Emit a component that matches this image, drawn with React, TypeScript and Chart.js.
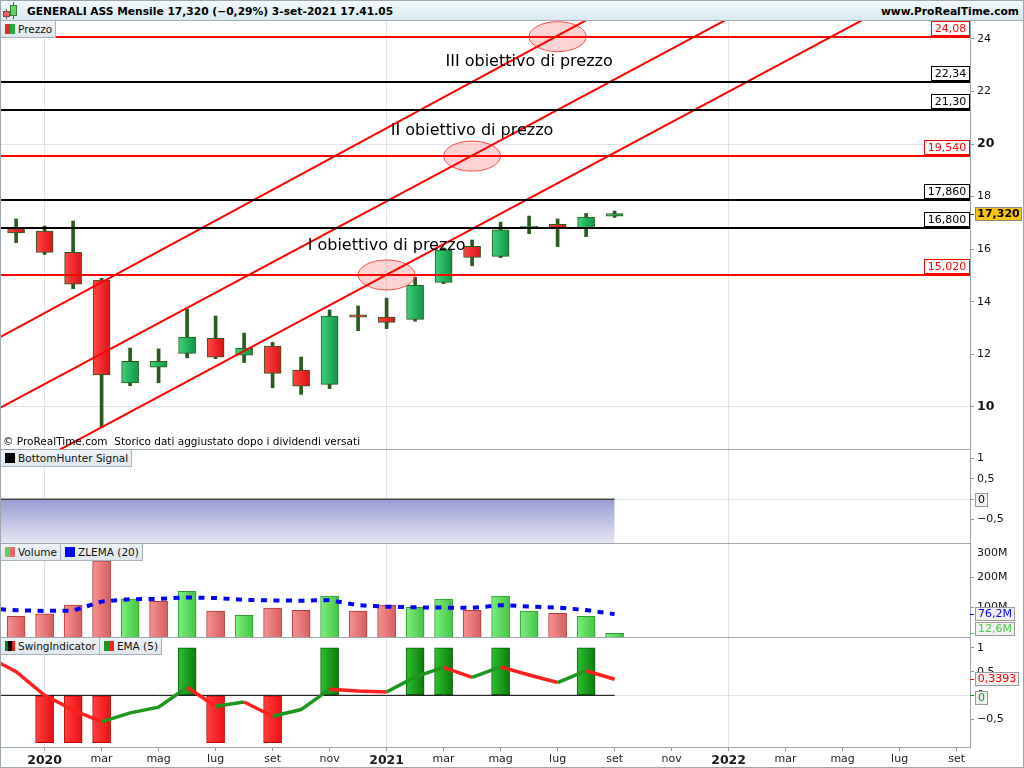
import React, { useEffect, useRef } from 'react';
import { Chart, registerables } from 'chart.js';

Chart.register(...registerables);

const FONT = '"DejaVu Sans", "Noto Sans", sans-serif';

// ---------------- data ----------------
// x index: 0 = nov 2019 (just left of the window), 1 = dic 2019 ... 22 = set 2021; axis runs on to set 2022 (34)
const monthLabels = [
  'nov', 'dic',
  '2020', 'feb', 'mar', 'apr', 'mag', 'giu', 'lug', 'ago', 'set', 'ott', 'nov', 'dic',
  '2021', 'feb', 'mar', 'apr', 'mag', 'giu', 'lug', 'ago', 'set', 'ott', 'nov', 'dic',
  '2022', 'feb', 'mar', 'apr', 'mag', 'giu', 'lug', 'ago', 'set',
];

const priceOpen = [null, 16.78, 16.69, 15.88, 14.83, 10.92, 11.51, 12.04, 12.61, 11.97, 12.32, 11.40, 10.86, 13.50, 13.42, 13.33, 14.74, 16.11, 15.73, 16.82, 16.95, 16.82, 17.26];
const priceHigh = [null, 17.15, 16.88, 17.07, 14.89, 12.24, 12.21, 13.71, 13.46, 12.81, 12.46, 11.90, 13.69, 13.84, 14.14, 14.93, 16.05, 16.35, 17.03, 17.26, 17.15, 17.36, 17.45];
const priceLow = [null, 16.25, 15.80, 14.50, 9.21, 10.81, 10.92, 11.87, 11.84, 11.69, 10.73, 10.48, 10.70, 12.90, 12.98, 13.26, 14.69, 15.37, 15.68, 16.59, 16.10, 16.48, 17.21];
const priceClose = [null, 16.62, 15.88, 14.67, 11.22, 11.74, 11.74, 12.66, 11.89, 12.24, 11.28, 10.79, 13.46, 13.42, 13.22, 14.63, 15.97, 15.69, 16.74, 16.88, 16.83, 17.22, 17.35];

const lastPrice = 17.32;
const lastPriceText = '17,320';

const levelValues = [24.08, 22.34, 21.3, 19.54, 17.86, 16.8, 15.02];
const levelTexts = ['24,08', '22,34', '21,30', '19,540', '17,860', '16,800', '15,020'];
const levelIsTarget = [true, false, false, true, false, false, true];

// parallel channel lines (two points each, x index / price)
const channelX0 = [1, 1, 1];
const channelY0 = [12.99, 10.29, 7.49];
const channelX1 = [20, 17, 14];
const channelY1 = [24.12, 19.56, 15.03];

const targetX = [14, 17, 20];
const targetY = [15.02, 19.54, 24.08];
const targetNames = ['I obiettivo di prezzo', 'II obiettivo di prezzo', 'III obiettivo di prezzo'];
const targetNameX = [14, 17, 19];
const targetNameY = [16.12, 20.49, 23.12];

const priceTicks = [10, 12, 14, 16, 18, 20, 22, 24];

const bottomHunter = [0, 0, 0, 0, 0, 0, 0, 0, 0, 0, 0, 0, 0, 0, 0, 0, 0, 0, 0, 0, 0, 0, 0];
const oscTicks = [1, 0.5, 0, -0.5];

// volume in millions
const volume = [null, 69, 77, 106, 254, 126, 119, 152, 86, 72, 96, 89, 136, 86, 106, 99, 126, 89, 136, 86, 79, 69, 12.6];
const volumeUp = [null, 0, 0, 0, 0, 1, 0, 1, 0, 1, 0, 0, 1, 0, 0, 1, 1, 0, 1, 1, 0, 1, 1];
const zlema20 = [95, 89, 87, 88, 118, 126, 127, 132, 130, 124, 122, 121, 123, 106, 101, 99, 98, 97, 106, 102, 98, 90, 76.2];
const volumeTicks = [100, 200, 300];

const swing = [null, 0, -1, -1, -1, 0, 0, 1, -1, 0, -1, 0, 1, 0, 0, 1, 1, 0, 1, 0, 0, 1, 0];
const ema5 = [0.82, 0.5, 0.0, -0.31, -0.56, -0.37, -0.25, 0.17, -0.23, -0.14, -0.44, -0.3, 0.13, 0.09, 0.07, 0.39, 0.59, 0.38, 0.6, 0.43, 0.27, 0.52, 0.3393];

const copyrightText = '© ProRealTime.com  Storico dati aggiustato dopo i dividendi versati';

// ---------------- styling helpers ----------------
const X_MIN = 0.47;
const X_MAX = 34.47;
const GRID = '#dfe2e8';
const AXIS = '#9ba6ad';
const TICK = '#8d99a1';
const CLEAR = 'rgba(0,0,0,0)';
const UI_FONT = `10.5px ${FONT}`;

const xTickValues = monthLabels.map((_, i) => i).filter((i) => i >= 2 && i % 2 === 0);
const isYearLabel = (v: number) => /^\d{4}$/.test(monthLabels[v] ?? '');
const fmtComma = (v: number) => (v === 0 ? '0' : String(v).replace('.', ',').replace('-', '\u2212'));

function makeX(showLabels: boolean): any {
  return {
    type: 'linear',
    min: X_MIN,
    max: X_MAX,
    offset: false,
    grid: {
      offset: false,
      color: (c: any) => (c.tick && isYearLabel(c.tick.value) ? GRID : CLEAR),
      tickColor: TICK,
      tickLength: 4,
      drawTicks: showLabels,
      lineWidth: 1,
    },
    border: { display: showLabels, color: AXIS },
    ticks: {
      display: showLabels,
      autoSkip: false,
      maxRotation: 0,
      minRotation: 0,
      padding: 2,
      color: '#1a1a1a',
      font: (c: any) => {
        const y = c.tick && isYearLabel(c.tick.value);
        return { family: FONT, size: y ? 12.5 : 11, weight: y ? 'bold' : 'normal' };
      },
      callback: (v: any) => monthLabels[v] ?? '',
    },
    afterBuildTicks: (s: any) => {
      s.ticks = xTickValues.map((v) => ({ value: v }));
    },
    afterFit: (s: any) => {
      s.height = showLabels ? 21 : 0;
      s.paddingLeft = 0;
      s.paddingRight = 0;
    },
  };
}

function makeY(min: number, max: number, tickVals: number[], fmt: (v: number) => any, gridVals: number[], font?: any, tickColor?: any): any {
  return {
    type: 'linear',
    position: 'right',
    min,
    max,
    grid: {
      color: (c: any) => (c.tick && gridVals.includes(c.tick.value) ? GRID : CLEAR),
      tickColor: tickColor ?? TICK,
      tickLength: 4,
      drawTicks: true,
    },
    border: { display: true, color: AXIS },
    ticks: {
      autoSkip: false,
      padding: 3,
      color: '#111',
      font: font ?? { family: FONT, size: 11 },
      callback: (v: any) => fmt(Number(v)),
    },
    afterBuildTicks: (s: any) => {
      s.ticks = tickVals.map((v) => ({ value: v }));
    },
    afterFit: (s: any) => {
      s.width = 53;
      s.paddingTop = 0;
      s.paddingBottom = 0;
    },
  };
}

function hGradient(half: number, pick: (i: number) => [string, string]) {
  return (c: any) => {
    const raw = c.raw;
    if (c.type !== 'data' || !raw) return '#888';
    const [c0, c1] = pick(raw.x);
    const xs = c.chart.scales && c.chart.scales.x;
    const px = xs ? xs.getPixelForValue(raw.x) : NaN;
    if (!isFinite(px)) return c1;
    const g = c.chart.ctx.createLinearGradient(px - half, 0, px + half, 0);
    g.addColorStop(0, c0);
    g.addColorStop(1, c1);
    return g;
  };
}

function baseOptions(x: any, y: any): any {
  return {
    responsive: false,
    animation: false,
    events: [],
    layout: { padding: 0 },
    plugins: { legend: { display: false }, tooltip: { enabled: false } },
    scales: { x, y },
  };
}

type AxisBox = { value: number; text: string; color: string; bg: string; border: string; bold?: boolean; dy?: number; dash?: string; width?: number };

function axisBoxesPlugin(id: string, boxes: AxisBox[]) {
  return {
    id,
    afterDraw(chart: any) {
      const { ctx } = chart;
      const ys = chart.scales.y;
      ctx.save();
      boxes.forEach((b) => {
        const py = ys.getPixelForValue(b.value);
        if (b.dash) {
          ctx.strokeStyle = b.dash;
          ctx.lineWidth = 1;
          ctx.beginPath();
          ctx.moveTo(ys.left, Math.round(py) + 0.5);
          ctx.lineTo(ys.left + 4, Math.round(py) + 0.5);
          ctx.stroke();
        }
        ctx.font = `${b.bold ? 'bold ' : ''}11px ${FONT}`;
        const w = b.width ?? Math.round(ctx.measureText(b.text).width + 6);
        const h = 14;
        const cy = Math.round(py + (b.dy || 0));
        const x0 = Math.round(ys.left + 5);
        const y0 = cy - 7;
        ctx.fillStyle = b.bg;
        ctx.fillRect(x0, y0, w, h);
        ctx.strokeStyle = b.border;
        ctx.lineWidth = 1;
        ctx.strokeRect(x0 + 0.5, y0 + 0.5, w - 1, h - 1);
        ctx.fillStyle = b.color;
        ctx.textAlign = 'center';
        ctx.textBaseline = 'middle';
        ctx.fillText(b.text, x0 + w / 2, cy + 0.5);
      });
      ctx.restore();
    },
  };
}

const pricePlugin = {
  id: 'priceAnnotations',
  afterDatasetsDraw(chart: any) {
    const { ctx, chartArea: a } = chart;
    const xs = chart.scales.x;
    const ys = chart.scales.y;
    ctx.save();
    ctx.beginPath();
    ctx.rect(a.left, a.top, a.right - a.left, a.bottom - a.top);
    ctx.clip();

    for (let k = 0; k < targetX.length; k++) {
      const cx = xs.getPixelForValue(targetX[k]);
      const cy = ys.getPixelForValue(targetY[k]);
      ctx.beginPath();
      ctx.ellipse(cx, cy, 28.5, 15, 0, 0, Math.PI * 2);
      ctx.fillStyle = 'rgba(255, 140, 140, 0.38)';
      ctx.fill();
      ctx.strokeStyle = '#ff4a4a';
      ctx.lineWidth = 1;
      ctx.stroke();
    }

    ctx.strokeStyle = '#ff0000';
    ctx.lineWidth = 2;
    for (let k = 0; k < channelX0.length; k++) {
      const s = (channelY1[k] - channelY0[k]) / (channelX1[k] - channelX0[k]);
      const xa = X_MIN - 1;
      const xb = X_MAX + 1;
      ctx.beginPath();
      ctx.moveTo(xs.getPixelForValue(xa), ys.getPixelForValue(channelY0[k] + (xa - channelX0[k]) * s));
      ctx.lineTo(xs.getPixelForValue(xb), ys.getPixelForValue(channelY0[k] + (xb - channelX0[k]) * s));
      ctx.stroke();
    }

    for (let k = 0; k < levelValues.length; k++) {
      const py = Math.round(ys.getPixelForValue(levelValues[k]));
      ctx.fillStyle = levelIsTarget[k] ? '#ff0000' : '#000000';
      ctx.fillRect(a.left, py - 1, a.right - a.left, 2);
    }

    ctx.fillStyle = '#000';
    ctx.font = `16px ${FONT}`;
    ctx.textAlign = 'center';
    ctx.textBaseline = 'middle';
    for (let k = 0; k < targetNames.length; k++) {
      ctx.fillText(targetNames[k], xs.getPixelForValue(targetNameX[k]), ys.getPixelForValue(targetNameY[k]));
    }

    ctx.font = `11px ${FONT}`;
    for (let k = 0; k < levelValues.length; k++) {
      const py = Math.round(ys.getPixelForValue(levelValues[k]));
      const color = levelIsTarget[k] ? '#ff0000' : '#000000';
      const w = Math.round(ctx.measureText(levelTexts[k]).width + 8);
      const h = 15;
      const x0 = a.right - w;
      const y0 = py - 1 - h;
      ctx.fillStyle = '#fff';
      ctx.fillRect(x0, y0, w, h);
      ctx.strokeStyle = color;
      ctx.lineWidth = 1;
      ctx.strokeRect(x0 + 0.5, y0 + 0.5, w - 1, h - 1);
      ctx.fillStyle = color;
      ctx.fillText(levelTexts[k], x0 + w / 2, y0 + h / 2 + 0.5);
    }

    ctx.textAlign = 'left';
    ctx.fillStyle = '#000';
    ctx.font = UI_FONT;
    ctx.fillText(copyrightText, a.left + 2, a.bottom - 7);
    ctx.restore();
  },
};

const CANDLE_GREEN: [string, string] = ['#3fd27a', '#0f9444'];
const CANDLE_RED: [string, string] = ['#ff4545', '#dc1212'];
const VOL_GREEN: [string, string] = ['#7cf07c', '#43c443'];
const VOL_RED: [string, string] = ['#f89292', '#d65e5e'];
const SW_GREEN: [string, string] = ['#30c030', '#0a7d0a'];
const SW_RED: [string, string] = ['#ff4040', '#ec1010'];

function Icon({ colors }: { colors: string[] }) {
  return (
    <div style={{ position: 'absolute', left: 4, top: 3, width: 10, height: 10, display: 'flex' }}>
      {colors.map((c, k) => (
        <div key={k} style={{ flex: 1, background: c }} />
      ))}
    </div>
  );
}

function LegendRow({ top, items }: { top: number; items: { label: string; colors: string[] }[] }) {
  return (
    <div style={{ position: 'absolute', left: 1, top, display: 'flex', height: 17 }}>
      {items.map((it, k) => (
        <div
          key={k}
          style={{
            position: 'relative',
            height: 17,
            boxSizing: 'border-box',
            padding: '0 3px 0 17px',
            background: 'linear-gradient(#eef3f6, #dfe7ec)',
            borderRight: '1px solid #a7b3ba',
            borderBottom: '1px solid #a7b3ba',
            font: UI_FONT,
            lineHeight: '16px',
            color: '#111',
            whiteSpace: 'nowrap',
          }}
        >
          <Icon colors={it.colors} />
          {it.label}
        </div>
      ))}
    </div>
  );
}

export default function App() {
  const priceRef = useRef<HTMLCanvasElement>(null);
  const bhRef = useRef<HTMLCanvasElement>(null);
  const volRef = useRef<HTMLCanvasElement>(null);
  const swRef = useRef<HTMLCanvasElement>(null);

  useEffect(() => {
    document.body.style.margin = '0';
    Chart.defaults.font.family = FONT;
    const charts: Chart[] = [];
    const idx = priceClose.map((_, i) => i).filter((i) => priceClose[i] != null);

    // ---- price ----
    const priceOpts = baseOptions(
      makeX(false),
      makeY(8.403, 24.677, priceTicks, (v) => String(v), [10, 20], (c: any) =>
        c.tick && c.tick.value % 10 === 0 ? { family: FONT, size: 12.5, weight: 'bold' } : { family: FONT, size: 11 }
      )
    );
    charts.push(
      new Chart(priceRef.current as HTMLCanvasElement, {
        type: 'bar',
        data: {
          datasets: [
            {
              type: 'bar',
              data: idx.map((i) => ({ x: i, y: [priceOpen[i], priceClose[i]] })),
              backgroundColor: hGradient(8.5, (i) => ((priceClose[i] as number) >= (priceOpen[i] as number) ? CANDLE_GREEN : CANDLE_RED)),
              borderColor: '#2b5a1e',
              borderWidth: 1,
              borderSkipped: false,
              barThickness: 17,
              grouped: false,
              order: 0,
            } as any,
            {
              type: 'bar',
              data: idx.map((i) => ({ x: i, y: [priceLow[i], priceHigh[i]] })),
              backgroundColor: '#2b5a1e',
              borderWidth: 0,
              barThickness: 3,
              grouped: false,
              order: 1,
            } as any,
          ],
        },
        options: priceOpts,
        plugins: [
          pricePlugin,
          axisBoxesPlugin('priceTag', [
            { value: lastPrice, text: lastPriceText, color: '#000', bg: '#f6c412', border: '#8a8a80', bold: true, width: 47, dash: '#333' },
          ]),
        ] as any,
      })
    );

    // ---- bottom hunter ----
    charts.push(
      new Chart(bhRef.current as HTMLCanvasElement, {
        type: 'line',
        data: {
          datasets: [
            {
              data: bottomHunter.map((v, i) => ({ x: i, y: v })),
              borderColor: '#000',
              borderWidth: 1,
              pointRadius: 0,
              clip: 0,
              fill: 'start',
              backgroundColor: (c: any) => {
                const ch = c.chart;
                const a = ch.chartArea;
                const ys = ch.scales.y;
                if (!a || !ys) return '#b4b6e0';
                const top = ys.getPixelForValue(0);
                if (!isFinite(top)) return '#b4b6e0';
                const g = ch.ctx.createLinearGradient(0, top, 0, a.bottom);
                g.addColorStop(0, '#989cd2');
                g.addColorStop(1, '#e6e6f5');
                return g;
              },
            } as any,
          ],
        },
        options: baseOptions(makeX(false), makeY(-1.08, 1.21, oscTicks, fmtComma, [0])),
        plugins: [axisBoxesPlugin('bhBoxes', [{ value: 0, text: '0', color: '#000', bg: '#f1f1f1', border: '#9a9a9a', dy: 1 }])] as any,
      })
    );

    // ---- volume ----
    const volIdx = volume.map((_, i) => i).filter((i) => volume[i] != null);
    charts.push(
      new Chart(volRef.current as HTMLCanvasElement, {
        type: 'bar',
        data: {
          datasets: [
            {
              type: 'line',
              data: zlema20.map((v, i) => ({ x: i, y: v })),
              borderColor: '#0000ff',
              borderWidth: 4,
              borderDash: [6, 6.5],
              pointRadius: 0,
              clip: 0,
              order: 0,
            } as any,
            {
              type: 'bar',
              data: volIdx.map((i) => ({ x: i, y: volume[i] })),
              backgroundColor: hGradient(9, (i) => (volumeUp[i] ? VOL_GREEN : VOL_RED)),
              borderColor: (c: any) => (c.raw && volumeUp[c.raw.x] ? '#2e9a2e' : '#b03a3a'),
              borderWidth: 1,
              borderSkipped: 'bottom',
              barThickness: 18,
              grouped: false,
              order: 1,
            } as any,
          ],
        },
        options: baseOptions(
          makeX(false),
          makeY(0, 310, volumeTicks, (v) => (v === 300 ? ['', '300M'] : `${v}M`), [], undefined, (c: any) =>
            c.tick && c.tick.value === 300 ? CLEAR : TICK
          )
        ),
        plugins: [
          axisBoxesPlugin('volBoxes', [
            { value: 76.2, text: '76,2M', color: '#0000ff', bg: '#f1f1f1', border: '#9a9a9a', dash: '#0000ff' },
            { value: 12.6, text: '12,6M', color: '#44cc44', bg: '#f1f1f1', border: '#9a9a9a', dy: -4, dash: '#44cc44' },
          ]),
        ] as any,
      })
    );

    // ---- swing ----
    const swIdx = swing.map((_, i) => i).filter((i) => swing[i] != null && swing[i] !== 0);
    charts.push(
      new Chart(swRef.current as HTMLCanvasElement, {
        type: 'bar',
        data: {
          datasets: [
            {
              type: 'line',
              data: ema5.map((v, i) => ({ x: i, y: v })),
              borderColor: '#ff1f1f',
              borderWidth: 3.5,
              pointRadius: 0,
              clip: 0,
              segment: {
                borderColor: (c: any) => (c.p1.parsed.y < c.p0.parsed.y ? '#ff1f1f' : '#1c991c'),
              },
              order: 0,
            } as any,
            {
              type: 'line',
              data: bottomHunter.map((v, i) => ({ x: i, y: v })),
              borderColor: '#000',
              borderWidth: 1,
              pointRadius: 0,
              clip: 0,
              order: 1,
            } as any,
            {
              type: 'bar',
              data: swIdx.map((i) => ({ x: i, y: swing[i] })),
              backgroundColor: hGradient(9, (i) => ((swing[i] as number) > 0 ? SW_GREEN : SW_RED)),
              borderColor: (c: any) => (c.raw && c.raw.y > 0 ? '#066006' : '#c40000'),
              borderWidth: 1,
              borderSkipped: false,
              barThickness: 18,
              grouped: false,
              order: 2,
            } as any,
          ],
        },
        options: baseOptions(makeX(true), makeY(-1.09, 1.21, oscTicks, fmtComma, [0])),
        plugins: [
          axisBoxesPlugin('swBoxes', [
            { value: 0.3393, text: '0,3393', color: '#ff0000', bg: '#f1f1f1', border: '#9a9a9a', dash: '#ff0000' },
            { value: 0, text: '0', color: '#119911', bg: '#f1f1f1', border: '#9a9a9a', dy: 3, dash: '#119911' },
          ]),
        ] as any,
      })
    );

    return () => charts.forEach((c) => c.destroy());
  }, []);

  const canvasStyle = (top: number, h: number): React.CSSProperties => ({ position: 'absolute', left: 1, top, width: 1022, height: h });
  const sep = (top: number): React.CSSProperties => ({ position: 'absolute', left: 0, top, width: 971, height: 1, background: '#9ba6ad' });

  return (
    <div style={{ position: 'fixed', left: 0, top: 0, width: 1024, height: 768, background: '#fff', overflow: 'hidden', fontFamily: FONT }}>
      {/* header */}
      <div
        style={{
          position: 'absolute',
          left: 0,
          top: 0,
          width: 1024,
          height: 20,
          background: 'linear-gradient(#f4f9fc, #d8e9f1)',
          borderBottom: '1px solid #a2afb6',
        }}
      >
        <div style={{ position: 'absolute', left: 6, top: 9, width: 1, height: 10, background: '#555' }} />
        <div style={{ position: 'absolute', left: 3, top: 11, width: 7, height: 6, background: '#f06464', border: '1px solid #8a4040', boxSizing: 'border-box' }} />
        <div style={{ position: 'absolute', left: 13, top: 2, width: 1, height: 17, background: '#555' }} />
        <div style={{ position: 'absolute', left: 10, top: 5, width: 7, height: 11, background: '#5fd85f', border: '1px solid #3a7a3a', boxSizing: 'border-box' }} />
        <div style={{ position: 'absolute', left: 27, top: 1, font: `bold 10.7px ${FONT}`, lineHeight: '21px', color: '#000', whiteSpace: 'nowrap' }}>
          GENERALI ASS Mensile 17,320 (−0,29%) 3-set-2021 17.41.05
        </div>
        <div style={{ position: 'absolute', right: 5, top: 1, font: `bold 10.7px ${FONT}`, lineHeight: '21px', color: '#000', whiteSpace: 'nowrap' }}>
          www.ProRealTime.com
        </div>
      </div>

      <canvas ref={priceRef} width={1022} height={428} style={canvasStyle(21, 428)} />
      <canvas ref={bhRef} width={1022} height={93} style={canvasStyle(450, 93)} />
      <canvas ref={volRef} width={1022} height={93} style={canvasStyle(544, 93)} />
      <canvas ref={swRef} width={1022} height={130} style={canvasStyle(638, 130)} />

      <div style={sep(449)} />
      <div style={sep(543)} />
      <div style={sep(637)} />

      <LegendRow top={21} items={[{ label: 'Prezzo', colors: ['#e62a2a', '#27a845'] }]} />
      <LegendRow top={450} items={[{ label: 'BottomHunter Signal', colors: ['#000'] }]} />
      <LegendRow
        top={544}
        items={[
          { label: 'Volume', colors: ['#5fd35f', '#e66a6a'] },
          { label: 'ZLEMA (20)', colors: ['#0000ff'] },
        ]}
      />
      <LegendRow
        top={638}
        items={[
          { label: 'SwingIndicator', colors: ['#0a7a0a', '#000', '#ee2020'] },
          { label: 'EMA (5)', colors: ['#1a9a1a', '#ff2020'] },
        ]}
      />

      <div style={{ position: 'absolute', left: 0, top: 0, width: 1024, height: 768, border: '1px solid #9ba6ad', boxSizing: 'border-box', pointerEvents: 'none' }} />
    </div>
  );
}
